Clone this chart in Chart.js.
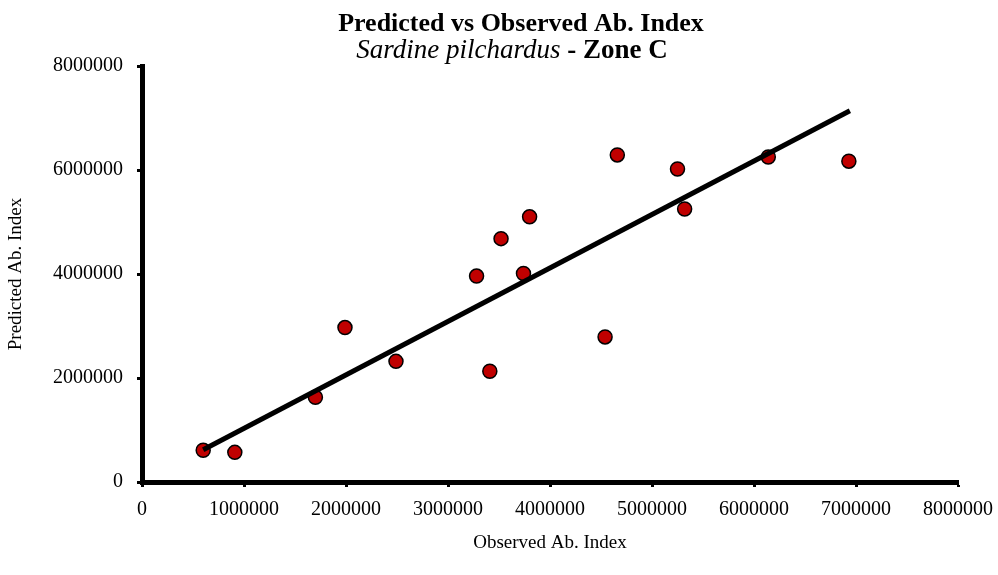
<!DOCTYPE html>
<html>
<head>
<meta charset="utf-8">
<title>Predicted vs Observed Ab. Index</title>
<script src="https://cdn.jsdelivr.net/npm/chart.js@4"></script>
<style>
  html, body { margin: 0; padding: 0; background: #fff; }
  #wrap { width: 998px; height: 575px; position: relative; }
</style>
</head>
<body>
<div id="wrap"><canvas id="chart"></canvas></div>
<script>
// observed vs predicted abundance index
const observed = [600000, 910000, 1700000, 1990000, 2490000, 3280000, 3410000, 3520000,
                  3740000, 3800000, 4540000, 4660000, 5250000, 5320000, 6140000, 6930000];
const predicted = [610000, 570000, 1630000, 2970000, 2320000, 3960000, 2130000, 4680000,
                   4010000, 5100000, 2790000, 6290000, 6020000, 5250000, 6250000, 6170000];
// regression line end points
const trendX = [600000, 6940000];
const trendY = [620000, 7140000];

const axisMin = 0;
const axisMax = 8000000;
const xStep = 1000000;
const yStep = 2000000;

const serif = '"Liberation Serif", "Times New Roman", serif';

const points = observed.map((v, i) => ({ x: v, y: predicted[i] }));
const trend = trendX.map((v, i) => ({ x: v, y: trendY[i] }));

// titles drawn as canvas text (second line mixes italic and bold)
const textPlugin = {
  id: 'texts',
  afterDraw(chart) {
    const ctx = chart.ctx;
    const area = chart.chartArea;
    ctx.save();
    ctx.fillStyle = '#000';
    ctx.textBaseline = 'alphabetic';
    ctx.textAlign = 'center';
    ctx.font = 'bold 26px ' + serif;
    ctx.fillText('Predicted vs Observed Ab. Index', 521, 31);

    const part1 = 'Sardine pilchardus';
    const part2 = ' - Zone C';
    ctx.font = 'italic 27px ' + serif;
    const w1 = ctx.measureText(part1).width;
    ctx.font = 'bold 27px ' + serif;
    const w2 = ctx.measureText(part2).width;
    const x0 = 512 - (w1 + w2) / 2;
    ctx.textAlign = 'left';
    ctx.font = 'italic 27px ' + serif;
    ctx.fillText(part1, x0, 58);
    ctx.font = 'bold 27px ' + serif;
    ctx.fillText(part2, x0 + w1, 58);

    ctx.textAlign = 'center';
    ctx.textBaseline = 'middle';
    ctx.font = '19px ' + serif;
    ctx.fillText('Observed Ab. Index', (area.left + area.right) / 2, 543);
    ctx.translate(16, (area.top + area.bottom) / 2);
    ctx.rotate(-Math.PI / 2);
    ctx.fillText('Predicted Ab. Index', 0, 0);
    ctx.restore();
  }
};

new Chart(document.getElementById('chart'), {
  type: 'scatter',
  data: {
    datasets: [
      {
        type: 'line',
        label: 'Trend',
        data: trend,
        borderColor: '#000',
        borderWidth: 5,
        pointRadius: 0,
        fill: false,
        order: 0
      },
      {
        label: 'Ab. Index',
        data: points,
        backgroundColor: '#C00000',
        borderColor: '#000',
        borderWidth: 1.5,
        pointRadius: 7,
        order: 1
      }
    ]
  },
  plugins: [textPlugin],
  options: {
    responsive: true,
    maintainAspectRatio: false,
    animation: false,
    layout: { padding: { top: 66, right: 40, left: 0, bottom: 0 } },
    plugins: {
      legend: { display: false },
      tooltip: { enabled: false }
    },
    scales: {
      x: {
        type: 'linear',
        min: axisMin,
        max: axisMax,
        afterFit(scale) {
          scale.height = 93;
          scale.paddingLeft = 0;
          scale.paddingRight = 0;
        },
        border: { color: '#000', width: 5 },
        grid: { drawOnChartArea: false, drawTicks: true, tickLength: 5, tickWidth: 3, tickColor: '#000' },
        ticks: {
          stepSize: xStep,
          color: '#000',
          padding: 11,
          maxRotation: 0,
          font: { family: serif, size: 20 },
          callback: v => String(v)
        }
      },
      y: {
        type: 'linear',
        min: axisMin,
        max: axisMax,
        afterFit(scale) {
          scale.width = 142;
          scale.paddingTop = 0;
          scale.paddingBottom = 0;
        },
        border: { color: '#000', width: 5 },
        grid: { drawOnChartArea: false, drawTicks: true, tickLength: 5, tickWidth: 3, tickColor: '#000' },
        ticks: {
          stepSize: yStep,
          color: '#000',
          padding: 14,
          font: { family: serif, size: 20 },
          callback: v => String(v)
        }
      }
    }
  }
});
</script>
</body>
</html>
